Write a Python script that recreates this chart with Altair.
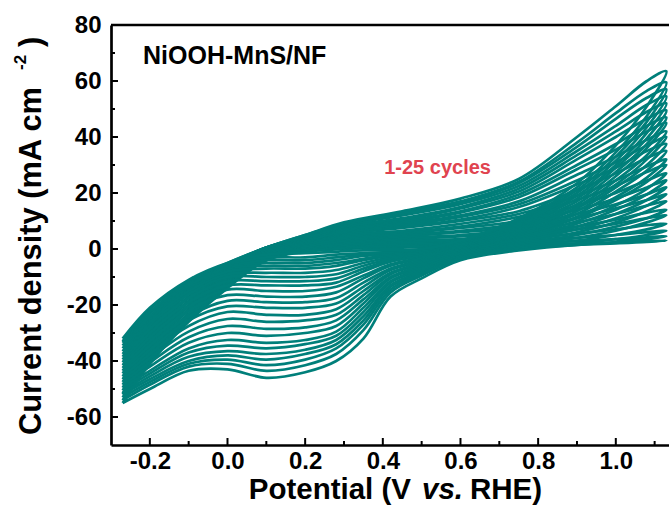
import altair as alt
import pandas as pd

TEAL = "#007F7A"
FONT = "Liberation Sans"

# potentials (V vs. RHE) of the forward (anodic) and reverse (cathodic) scan points
E_fwd = [-0.27, -0.2, -0.1, 0.0, 0.1, 0.2, 0.3, 0.45, 0.6, 0.75, 0.9, 1.0, 1.08, 1.13]
E_rev = [1.08, 1.0, 0.9, 0.75, 0.6, 0.5, 0.42, 0.35, 0.28, 0.2, 0.1, 0.0, -0.1, -0.2, -0.27]

# current density (mA cm-2), one row per cycle, forward scan
J_fwd = [
    [-55, -41, -26, -14, -4, -1, 0, 0.5, 1, 1.2, 1.8, 2.3, 2.8, 3],
    [-54, -40, -25.5, -13.5, -4, -0.5, 0.5, 1, 1.5, 2, 2.8, 3.5, 4.2, 4.5],
    [-53, -39, -25, -13, -3.5, -0.5, 0.5, 1.5, 2, 2.8, 4, 5, 6, 6.5],
    [-52, -38.5, -24, -12.5, -3.5, 0, 1, 2, 2.5, 3.5, 5.5, 7, 8.5, 9],
    [-51.5, -37.5, -23.5, -12, -3, 0, 1.5, 2.5, 3, 4.5, 7, 9, 11, 12],
    [-50.5, -36.5, -23, -11.5, -3, 0.5, 1.5, 3, 3.5, 5, 8, 10.5, 13, 14],
    [-49.5, -35.5, -22, -11, -2.5, 0.5, 2, 3.5, 4.5, 6, 9.5, 12.5, 15.5, 17],
    [-48.5, -35, -21.5, -10.5, -2.5, 1, 2.5, 4, 5, 7, 11, 14.5, 17.5, 19.5],
    [-47.5, -34, -20.5, -10, -2, 1, 3, 4.5, 6, 8, 12.5, 16, 19.5, 22],
    [-46.5, -33, -20, -9.5, -2, 1.5, 3.5, 5, 6.5, 9, 14, 18, 22, 24.5],
    [-45.5, -32, -19, -9, -1.5, 1.5, 4, 5.5, 7.5, 10, 15.5, 20, 24.5, 27],
    [-44.5, -31, -18.5, -8.5, -1.5, 2, 4.5, 6, 8, 11.5, 17.5, 22.5, 27.5, 30],
    [-43.5, -30.5, -17.5, -8.5, -1, 2, 5, 6.5, 9, 12.5, 19, 24.5, 29.5, 32],
    [-42.5, -29.5, -17, -8, -1, 2.5, 5.5, 7.5, 10, 13.5, 21, 27, 32.5, 35],
    [-41.5, -28.5, -16, -7.5, -0.5, 2.5, 6, 8, 10.5, 15, 23, 29, 35, 37.5],
    [-40.5, -28, -15.5, -7, -0.5, 3, 6, 8.5, 11.5, 16, 24.5, 31, 37, 40],
    [-39.5, -27, -15, -7, 0, 3, 6.5, 9, 12, 17, 26.5, 33, 39, 42],
    [-38.5, -26, -14.5, -6.5, 0, 3.5, 7, 9.5, 13, 18.5, 28.5, 35.5, 42, 45],
    [-37.5, -25.5, -14, -6.5, 0, 3.5, 7.5, 10, 13.5, 19.5, 30, 37.5, 44, 47],
    [-36.5, -24.5, -13.5, -6, 0, 4, 8, 10.5, 14.5, 20.5, 32, 40, 46.5, 49.5],
    [-35.5, -24, -13, -6, 0.5, 4, 8, 11, 15, 21.5, 33.5, 42, 49, 52],
    [-34.5, -23, -12.5, -5.5, 0.5, 4.5, 8.5, 12, 16, 22.5, 35, 44, 51.5, 54.5],
    [-33.5, -22.5, -12, -5.5, 0.5, 4.5, 9, 12.5, 16.5, 23.5, 36.5, 46.5, 54, 57],
    [-33, -21.5, -11.5, -5, 0.5, 5, 9, 13, 17, 24, 38, 48.5, 56.5, 59.5],
    [-32, -21, -11, -5, 0.5, 5, 9.5, 13.5, 18, 25, 40, 51, 60, 63.5],
]

# current density (mA cm-2), one row per cycle, reverse scan
J_rev = [
    [2.5, 2, 1.5, -0.5, -4, -10.5, -17, -32, -40, -44, -46, -43, -43.5, -50, -55],
    [3.5, 2.5, 1.5, 0, -3.5, -9.5, -15.5, -29, -37.5, -41.5, -43.5, -41, -42, -48.5, -54],
    [5, 3.5, 2, 0.5, -3, -9, -14.5, -27, -35.5, -39.5, -41.5, -39.5, -41, -47.5, -53],
    [7, 5, 3, 1, -2.5, -8.5, -13.5, -25.5, -34, -37.5, -39.5, -38, -40, -46.5, -52],
    [9.5, 6.5, 4, 1.5, -2, -8, -13, -24, -32.5, -36, -37.5, -36.5, -38.5, -45.5, -51.5],
    [11, 8, 5, 2, -2, -7.5, -12, -22.5, -31, -34, -35.5, -34.5, -37, -44.5, -50.5],
    [13.5, 9.5, 6, 2.5, -1.5, -7, -11.5, -21, -29.5, -32.5, -33.5, -32.5, -35.5, -43.5, -49.5],
    [15.5, 11, 7, 3, -1.5, -6.5, -10.5, -19.5, -27.5, -30, -31, -30, -33.5, -42, -48.5],
    [17.5, 12.5, 8, 3.5, -1, -6, -10, -18, -25.5, -28, -28.5, -27.5, -31.5, -40.5, -47.5],
    [19.5, 14, 9, 4, -1, -5.5, -9, -16.5, -23.5, -25.5, -26, -25, -29.5, -39, -46.5],
    [21.5, 15.5, 10, 4.5, -0.5, -5, -8.5, -15, -21.5, -23.5, -23.5, -22.5, -27.5, -37.5, -45.5],
    [24, 17.5, 11, 5, -0.5, -4.5, -7.5, -13.5, -19.5, -21, -21, -20.5, -25.5, -36, -44.5],
    [25.5, 18.5, 11.5, 5, 0, -4, -7, -12, -17.5, -19, -19, -18.5, -24, -34.5, -43.5],
    [28, 20.5, 12.5, 5.5, 0, -3.5, -6, -10.5, -15.5, -17, -17, -16.5, -22, -33, -42.5],
    [30, 22, 13.5, 6, 0.5, -3, -5.5, -9.5, -13.5, -15, -15, -14.5, -20.5, -31.5, -41.5],
    [32, 23, 14.5, 6.5, 0.5, -2.5, -4.5, -8, -12, -13, -13, -13, -19, -30, -40.5],
    [33.5, 24.5, 15, 7, 1, -2, -4, -7, -10.5, -11.5, -11.5, -11.5, -17.5, -28.5, -39.5],
    [36, 26, 16, 7.5, 1, -1.5, -3.5, -6, -9, -10, -10, -10, -16, -27, -38.5],
    [37.5, 27.5, 17, 8, 1.5, -1.5, -3, -5, -7.5, -8.5, -8.5, -9, -15, -26, -37.5],
    [39.5, 29, 18, 8.5, 1.5, -1, -2.5, -4, -6, -7, -7, -8, -14, -25, -36.5],
    [41.5, 30, 19, 9, 2, -1, -2, -3.5, -5, -6, -6, -7, -13.5, -24, -35.5],
    [43.5, 31.5, 20, 9.5, 2, -0.5, -1.5, -2.5, -4, -5, -5, -6.5, -13, -23, -34.5],
    [45.5, 33, 21, 10, 2.5, -0.5, -1, -2, -3, -4, -4, -6, -12, -22.5, -33.5],
    [47.5, 34.5, 22, 10.5, 2.5, 0, -1, -1.5, -2, -3, -3, -5.5, -11.5, -21.5, -33],
    [51, 37, 23.5, 11, 3, 0, -0.5, -0.5, -1, -1.5, -2, -5, -11, -21, -32],
]

x_major = [-0.2, 0.0, 0.2, 0.4, 0.6, 0.8, 1.0]
x_minor = [-0.1, 0.1, 0.3, 0.5, 0.7, 0.9, 1.1]
y_major = [-60, -40, -20, 0, 20, 40, 60, 80]
y_minor = [-50, -30, -10, 10, 30, 50, 70]

rows = []
for c, (jf, jr) in enumerate(zip(J_fwd, J_rev), start=1):
    k = 0
    for e, j in zip(E_fwd, jf):
        rows.append({"cycle": c, "idx": k, "E": e, "J": j}); k += 1
    for e, j in zip(E_rev, jr):
        rows.append({"cycle": c, "idx": k, "E": e, "J": j}); k += 1
df = pd.DataFrame(rows)

W, H = 558, 420
xs = alt.Scale(domain=[-0.3, 1.137], nice=False, zero=False)
ys = alt.Scale(domain=[-70, 80], nice=False, zero=False)

lab = "datum.value < 0 ? '-' + format(-datum.value, '{f}') : format(datum.value, '{f}')"
ax_common = dict(labelFont=FONT, labelFontWeight="bold", labelFontSize=24, labelColor="black",
                 domainColor="black", domainWidth=2.7, ticks=False, tickSize=0, grid=False,
                 title=None)
x_axis = alt.Axis(values=x_major, labelExpr=lab.format(f=".1f"), labelPadding=4, **ax_common)
y_axis = alt.Axis(values=y_major, labelExpr=lab.format(f=".0f"), labelPadding=10, **ax_common)

lines = alt.Chart(df).mark_line(color=TEAL, strokeWidth=2.7, interpolate="catmull-rom", clip=True).encode(
    x=alt.X("E:Q", scale=xs, axis=x_axis),
    y=alt.Y("J:Q", scale=ys, axis=y_axis),
    detail="cycle:N",
    order="idx:Q",
)

def xticks(vals, length):
    return alt.Chart(pd.DataFrame({"E": vals})).mark_rule(color="black", strokeWidth=2).encode(
        x=alt.X("E:Q", scale=xs, axis=x_axis), y=alt.value(H), y2=alt.value(H - length))

def yticks(vals, length):
    return alt.Chart(pd.DataFrame({"J": vals})).mark_rule(color="black", strokeWidth=2).encode(
        y=alt.Y("J:Q", scale=ys, axis=y_axis), x=alt.value(0), x2=alt.value(length))

top = alt.Chart(pd.DataFrame({"a": [0]})).mark_rule(color="black", strokeWidth=2.7).encode(
    x=alt.value(0), x2=alt.value(W), y=alt.value(0))

def txt(text, x, y, size, color="black", align="left", style="normal", angle=0, baseline="alphabetic"):
    kw = dict(font=FONT, fontWeight="bold", fontSize=size, color=color, align=align,
              baseline=baseline, fontStyle=style)
    if angle:
        kw["angle"] = angle
    return alt.Chart(pd.DataFrame({"a": [0]})).mark_text(**kw).encode(
        x=x, y=y, text=alt.value(text))

label1 = txt("NiOOH-MnS/NF", alt.datum(-0.2175), alt.datum(66.1), 25)
label2 = txt("1-25 cycles", alt.datum(0.4036), alt.datum(26.8), 20, color="#E0434F")

xt1 = txt("Potential (V", alt.value(300), alt.value(474), 29.5, align="right")
xt2 = txt("vs.", alt.value(311), alt.value(474), 29.5, style="italic")
xt3 = txt("RHE)", alt.value(359), alt.value(474), 29.5)

yt1 = txt("Current density (mA cm", alt.value(-70), alt.value(410), 30.8, angle=270)
yt2 = txt("-2", alt.value(-85), alt.value(45), 17, angle=270)
yt3 = txt(")", alt.value(-70), alt.value(22), 30.8, angle=270)

chart = alt.layer(
    lines, xticks(x_major, 7), xticks(x_minor, 4), yticks(y_major, 7), yticks(y_minor, 4),
    top, label1, label2, xt1, xt2, xt3, yt1, yt2, yt3,
).properties(
    width=W, height=H,
    padding={"left": 111, "top": 25, "right": 0, "bottom": 63},
    autosize=alt.AutoSizeParams(type="none"),
).configure_view(stroke=None)

chart.save("out.html", embed_options={"renderer": "svg", "actions": False})
